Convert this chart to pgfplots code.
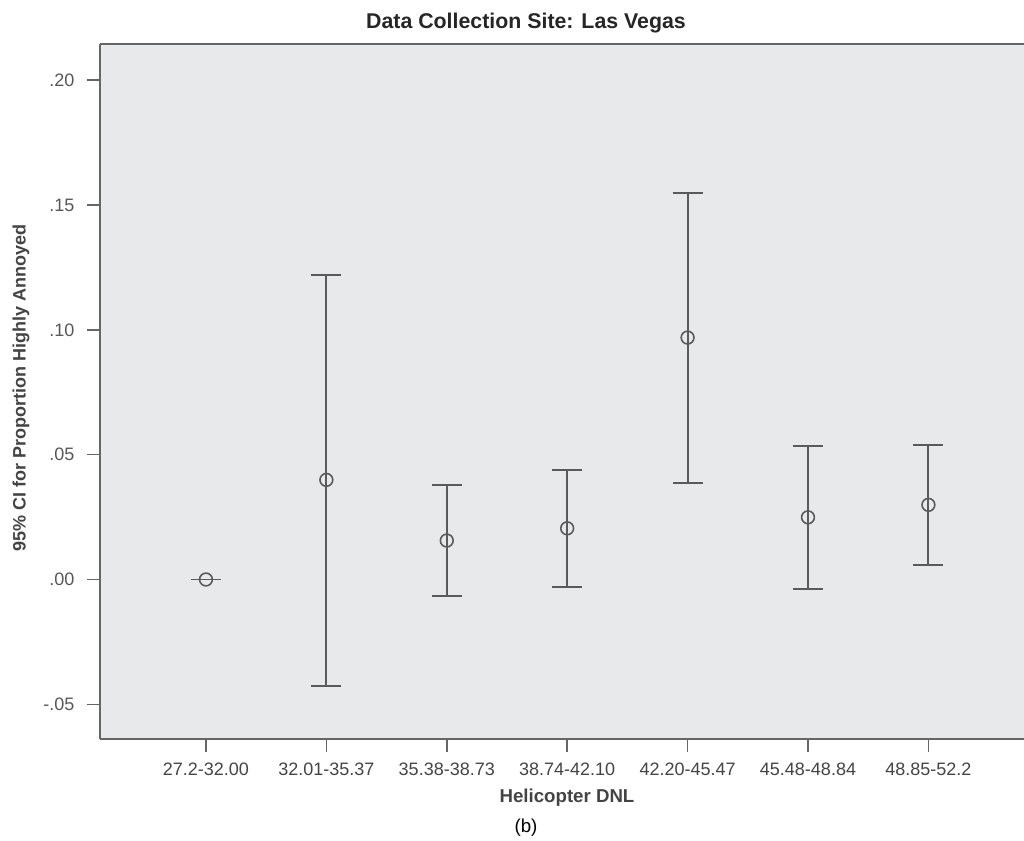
\documentclass[border=0pt]{standalone}
\usepackage{pgfplots}
\pgfplotsset{compat=1.18}
\usepackage{pgfplotstable}
\usepackage{fontspec}
\setmainfont{Liberation Sans}
\definecolor{bg}{HTML}{E8E9EA}
\definecolor{ln}{HTML}{5A5A5A}
\definecolor{ax}{HTML}{666666}
\definecolor{tx}{HTML}{444444}

\pgfplotstableread{
x y lo hi
0 0.0000 0.0000 0.0000
1 0.0399 -0.0428 0.1220
2 0.0156 -0.0065 0.0379
3 0.0205 -0.0031 0.0439
4 0.0969 0.0387 0.1547
5 0.0249 -0.0037 0.0535
6 0.0299 0.0059 0.0539
}\ci

\begin{document}
\begin{tikzpicture}[x=0.75pt,y=0.75pt]
\path[use as bounding box] (0,0) rectangle (1024,840);
\begin{axis}[
  at={(75pt,75.75pt)}, anchor=south west,
  scale only axis, width=693pt, height=521.25pt,
  xmin=-0.880, xmax=6.794, ymin=-0.0639, ymax=0.2145,
  axis x line=box, axis y line=left,
  axis line style={-, draw=ax, line width=1.2pt},
  every outer x axis line/.append style={-},
  every outer y axis line/.append style={-},
  axis background/.style={fill=bg},
  xtick={0,1,2,3,4,5,6},
  xticklabels={27.2-32.00,32.01-35.37,35.38-38.73,38.74-42.10,42.20-45.47,45.48-48.84,48.85-52.2},
  ytick={-0.05,0,0.05,0.1,0.15,0.2},
  yticklabels={-.05,.00,.05,.10,.15,.20},
  tick align=outside, tick pos=left,
  major tick length=9.75pt,
  tick style={draw=ax, line width=1.2pt},
  xticklabel style={font=\fontsize{13.5}{15}\selectfont, text=tx, yshift=-5pt},
  yticklabel style={font=\fontsize{13.5}{15}\selectfont, text=tx!90, xshift=-6pt},
  clip=false,
]
\addplot[draw=ln, line width=1.4pt, mark=o, mark size=4.8pt,
  mark options={draw=ln, fill=none, line width=1.2pt}, only marks,
  error bars/.cd, y dir=both, y explicit,
  error bar style={draw=ln, line width=1.4pt},
  error mark options={draw=ln, line width=1.4pt, mark size=11.25pt, rotate=90}]
  table[x=x, y=y, y error plus expr=\thisrow{hi}-\thisrow{y}, y error minus expr=\thisrow{y}-\thisrow{lo}] {\ci};
\end{axis}
\node[font=\bfseries\fontsize{16}{18}\selectfont, text=black!85] at (526,817) {Data Collection Site: Las Vegas};
\node[font=\bfseries\fontsize{13.5}{16}\selectfont, text=tx, rotate=90] at (21,452) {95\% CI for Proportion Highly Annoyed};
\node[font=\bfseries\fontsize{14}{16}\selectfont, text=tx] at (567,42) {Helicopter DNL};
\node[font=\fontsize{14}{16}\selectfont, text=black] at (526,12) {(b)};
\end{tikzpicture}
\end{document}
